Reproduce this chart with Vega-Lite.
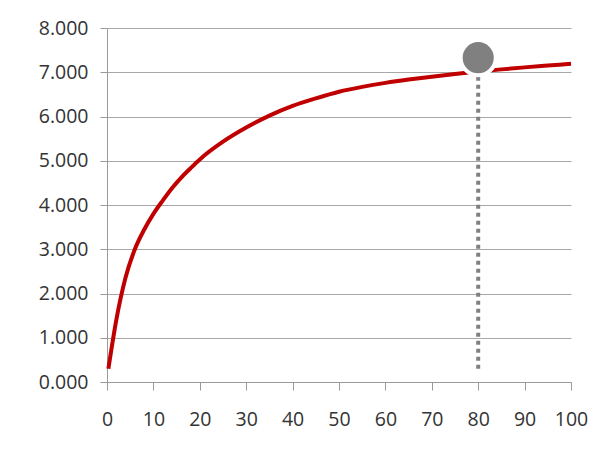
{
  "$schema": "https://vega.github.io/schema/vega-lite/v6.json",
  "autosize": {"type": "none"},
  "width": 464,
  "height": 354,
  "padding": {"left": 107, "top": 28, "right": 32, "bottom": 75},
  "background": "white",
  "config": {
    "view": {"stroke": null},
    "font": "Open Sans",
    "axis": {
      "labelFont": "Open Sans",
      "labelFontSize": 19.5,
      "labelColor": "#333333",
      "domainColor": "#9a9a9a",
      "tickColor": "#9a9a9a",
      "gridColor": "#a8a8a8",
      "title": null
    }
  },
  "datasets": {
    "curve": [
      {"x": 0.3, "y": 0.30},
      {"x": 2, "y": 1.40},
      {"x": 4, "y": 2.36},
      {"x": 6, "y": 3.00},
      {"x": 8, "y": 3.44},
      {"x": 10, "y": 3.80},
      {"x": 12, "y": 4.10},
      {"x": 14, "y": 4.38},
      {"x": 16, "y": 4.62},
      {"x": 18, "y": 4.83},
      {"x": 20, "y": 5.03},
      {"x": 25, "y": 5.43},
      {"x": 30, "y": 5.75},
      {"x": 35, "y": 6.02},
      {"x": 40, "y": 6.24},
      {"x": 45, "y": 6.41},
      {"x": 50, "y": 6.56},
      {"x": 55, "y": 6.67},
      {"x": 60, "y": 6.76},
      {"x": 65, "y": 6.835},
      {"x": 70, "y": 6.90},
      {"x": 75, "y": 6.96},
      {"x": 80, "y": 7.015},
      {"x": 85, "y": 7.065},
      {"x": 90, "y": 7.11},
      {"x": 95, "y": 7.15},
      {"x": 100, "y": 7.19}
    ],
    "marker": [
      {"x": 80, "y": 7.33, "ybase": 0.3}
    ]
  },
  "encoding": {
    "x": {
      "field": "x", "type": "quantitative",
      "scale": {"domain": [0, 100], "nice": false},
      "axis": {"values": [0, 10, 20, 30, 40, 50, 60, 70, 80, 90, 100], "grid": false, "tickSize": 8, "labelPadding": 20, "labelFlush": false}
    },
    "y": {
      "field": "y", "type": "quantitative",
      "scale": {"domain": [0, 8], "nice": false},
      "axis": {"values": [0, 1, 2, 3, 4, 5, 6, 7, 8], "format": ".3f", "grid": true, "tickSize": 7, "labelPadding": 12}
    }
  },
  "layer": [
    {
      "data": {"name": "curve"},
      "mark": {"type": "line", "color": "#c00000", "strokeWidth": 4, "interpolate": "monotone"}
    },
    {
      "data": {"name": "marker"},
      "mark": {"type": "rule", "color": "#808080", "strokeWidth": 4, "strokeDash": [4, 4]},
      "encoding": {
        "y": {"field": "ybase", "type": "quantitative"},
        "y2": {"field": "y"}
      }
    },
    {
      "data": {"name": "marker"},
      "mark": {"type": "point", "shape": "circle", "filled": true, "fill": "#808080", "fillOpacity": 1, "stroke": "white", "strokeWidth": 4, "size": 1232, "opacity": 1}
    }
  ]
}
